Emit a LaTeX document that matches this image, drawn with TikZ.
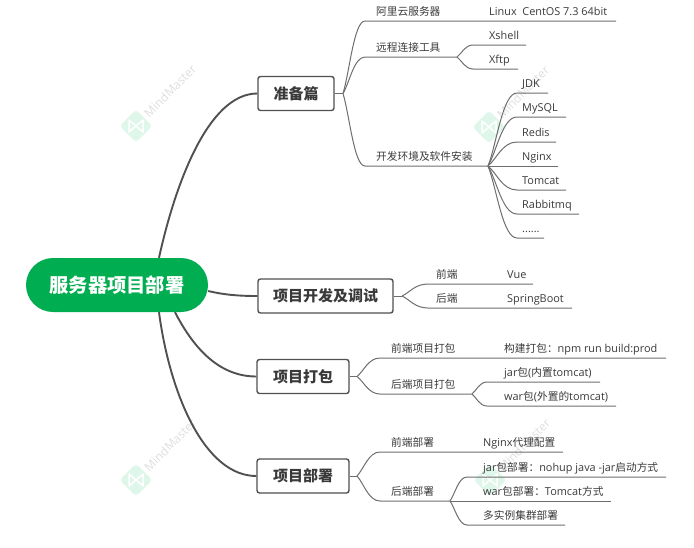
\documentclass[tikz,border=0pt]{standalone}
\usepackage{fontspec}
\setmainfont{Open Sans}
\newfontfamily\cjk{Noto Sans CJK SC}
\usetikzlibrary{calc}
\definecolor{ink}{HTML}{3A3A3A}
\definecolor{edge}{HTML}{505050}
\definecolor{thinedge}{HTML}{6E6E6E}
\definecolor{rootgreen}{HTML}{00AD50}
\definecolor{wmgreen}{HTML}{DFF7EA}
\definecolor{wmtext}{HTML}{DEDEDE}
\tikzset{
  rootnode/.style={fill=rootgreen,rounded corners=27pt,minimum width=182pt,minimum height=54pt,inner sep=0pt,text=white,font=\cjk\bfseries\fontsize{19.3}{22}\selectfont},
  topicbox/.style={draw=edge,fill=white,line width=1.4pt,rounded corners=2.5pt,minimum height=34pt,inner sep=0pt,text=ink,font=\cjk\bfseries\fontsize{15}{18}\selectfont},
  lab/.style={anchor=base west,inner sep=0pt,text=ink,font=\fontsize{10.9}{12}\selectfont},
  mainline/.style={draw=edge,line width=1.9pt},
  subline/.style={draw=thinedge,line width=1pt},
}
\newcommand\cj[1]{{\cjk\fontsize{10.7}{12}\selectfont #1}}
% fork, end name, y, x where the curve meets the line, end x
\newcommand\brn[5]{%
  \coordinate (#2r) at (#4,#3);
  \coordinate (#2) at (#5,#3);
  \path[subline] (#1) .. controls ($(#1)!.3!(#2r)$) and ($(#1 |- #2r)!.5!(#2r)$) .. (#2r) -- (#2);
}
\newcommand\wm[3]{%
  \node[fill=wmgreen,rounded corners=3pt,minimum size=23pt,inner sep=0pt,rotate=45] (#3i) at (#1,#2) {};
  \draw[white,line width=1.5pt,line join=round] ($(#3i)+(-7,-6)$) -- ($(#3i)+(7,6)$) -- ($(#3i)+(7,-6)$) -- ($(#3i)+(-7,6)$) -- cycle;
  \node[anchor=west,rotate=45,inner sep=0pt,text=wmtext,font=\fontsize{12}{14}\selectfont] (#3t) at ($(#3i)+(10,-11)$) {MindMaster};
}
\begin{document}
\begin{tikzpicture}[x=1pt,y=-1pt]
\useasboundingbox (0,0) rectangle (694,547);
\wm{136}{126}{wa}
\wm{489}{127}{wb}
\wm{136}{480}{wc}
\wm{490}{480}{wd}

\node[rootnode] (root) at (117,285) {服务器项目部署};
\node[topicbox,minimum width=76pt] (t1) at (296,93.5) {准备篇};
\node[topicbox,minimum width=135pt] (t2) at (325.5,296) {项目开发及调试};
\node[topicbox,minimum width=92pt] (t3) at (303,376.5) {项目打包};
\node[topicbox,minimum width=92pt] (t4) at (303,476) {项目部署};

\path[mainline] ([xshift=42pt]root.north) .. controls (175,185) and (208,93.5) .. (t1.west);
\path[mainline] (root.east |- 0,291) .. controls (225,295) and (240,296) .. (t2.west);
\path[mainline] ([xshift=58pt]root.south) .. controls (192,345) and (217,376.5) .. (t3.west);
\path[mainline] ([xshift=42pt]root.south) .. controls (170,395) and (205,476) .. (t4.west);

% forks
\coordinate (f1) at (343,93.5);
\coordinate (f2) at (402,296);
\coordinate (f3) at (357,376.5);
\coordinate (f4) at (357,476);
\path[subline] (t1.east) -- (f1);
\path[subline] (t2.east) -- (f2);
\path[subline] (t3.east) -- (f3);
\path[subline] (t4.east) -- (f4);

% preparation
\brn{f1}{a1}{21}{365}{616}
\brn{f1}{a2}{57}{365}{457}
\brn{f1}{a3}{166}{365}{488}
\brn{a2}{b1}{45}{473}{526}
\brn{a2}{b2}{69}{473}{518}
\brn{a3}{c1}{93}{517}{548}
\brn{a3}{c2}{117}{517}{566}
\brn{a3}{c3}{142}{517}{556}
\coordinate (c4) at (558,166);
\path[subline] (a3) -- (c4);
\brn{a3}{c5}{190}{517}{566}
\brn{a3}{c6}{214}{517}{579}
\brn{a3}{c7}{238}{517}{544}
\node[lab] (la1) at (376,15) {\cj{阿里云服务器}};
\node[lab] (lb0) at (489,15) {Linux\ \ CentOS 7.3 64bit};
\node[lab] (la2) at (376,51) {\cj{远程连接工具}};
\node[lab] (lb1) at (489,39) {Xshell};
\node[lab] (lb2) at (489,63) {Xftp};
\node[lab] (la3) at (376,160) {\cj{开发环境及软件安装}};
\node[lab] (lc1) at (522,87) {JDK};
\node[lab] (lc2) at (522,111) {MySQL};
\node[lab] (lc3) at (522,136) {Redis};
\node[lab] (lc4) at (522,160) {Nginx};
\node[lab] (lc5) at (522,184) {Tomcat};
\node[lab] (lc6) at (522,208) {Rabbitmq};
\node[lab] (lc7) at (522,232) {......};

% development
\brn{f2}{d1}{284}{428}{533}
\brn{f2}{d2}{308}{428}{572}
\node[lab] (ld1) at (436,278) {\cj{前端}};
\node[lab] (ld1b) at (507,278) {Vue};
\node[lab] (ld2) at (436,302) {\cj{后端}};
\node[lab] (ld2b) at (507,302) {SpringBoot};

% packaging
\brn{f3}{e1}{358}{380}{666}
\brn{f3}{e2}{394}{380}{472}
\brn{e2}{g1}{382}{487}{600}
\brn{e2}{g2}{406}{487}{616}
\node[lab] (le1) at (391,352) {\cj{前端项目打包}};
\node[lab] (le1b) at (504,352) {\cj{构建打包：}npm run build:prod};
\node[lab] (le2) at (391,388) {\cj{后端项目打包}};
\node[lab] (lg1) at (504,376) {jar\cj{包}(\cj{内置}tomcat)};
\node[lab] (lg2) at (504,400) {war\cj{包}(\cj{外置的}tomcat)};

% deployment
\brn{f4}{h1}{452}{380}{563}
\brn{f4}{h2}{501}{380}{450}
\brn{h2}{k1}{477}{467}{666}
\coordinate (k2) at (611,501);
\path[subline] (h2) -- (k2);
\brn{h2}{k3}{525}{467}{565}
\node[lab] (lh1) at (391,446) {\cj{前端部署}};
\node[lab] (lh1b) at (483,446) {Nginx\cj{代理配置}};
\node[lab] (lh2) at (391,495) {\cj{后端部署}};
\node[lab] (lk1) at (483,471) {jar\cj{包部署：}nohup java -jar\cj{启动方式}};
\node[lab] (lk2) at (483,495) {war\cj{包部署：}Tomcat\cj{方式}};
\node[lab] (lk3) at (483,519) {\cj{多实例集群部署}};
\end{tikzpicture}
\end{document}
